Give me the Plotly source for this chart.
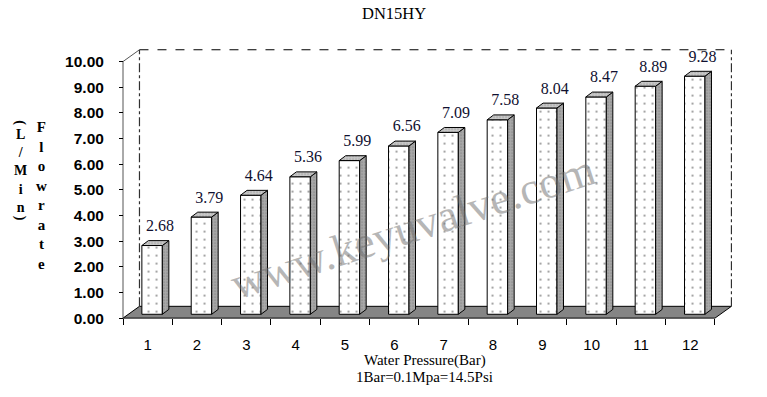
import plotly.graph_objects as go

# ---------------- data ----------------
pressure = [1, 2, 3, 4, 5, 6, 7, 8, 9, 10, 11, 12]
flow = [2.68, 3.79, 4.64, 5.36, 5.99, 6.56, 7.09, 7.58, 8.04, 8.47, 8.89, 9.28]
x_labels = [str(p) for p in pressure]
y_ticks = [0, 1, 2, 3, 4, 5, 6, 7, 8, 9, 10]

# ---------------- geometry (data units) ----------------
W, H = 767, 397
PX_X = 49.33   # px per category
PX_Y = 26.05   # px per unit
X0_PX, Y0_PX = 123, 323   # pixel of (0.5, 0)
XR = [0.45, 12.95]
YR = [-0.1, 10.7]

DX, DY = 0.334, 0.46      # depth of floor / walls
BASE = 0.15               # bar base (mid depth)
BW = 0.415                # bar front width
BOFF = 0.09               # bar centre shift
BDX, BDY = 0.132, 0.19    # bar depth

def xpx(x):
    return X0_PX + (x - 0.5) * PX_X

def ypx(y):
    return Y0_PX - y * PX_Y

dom_x = [xpx(XR[0]) / W, xpx(XR[1]) / W]
dom_y = [1 - ypx(YR[0]) / H, 1 - ypx(YR[1]) / H]

fig = go.Figure()

# bar fronts
fig.add_trace(go.Bar(
    x=pressure, y=flow, base=BASE, width=BW, offset=BOFF - BW / 2,
    marker=dict(color="white", line=dict(color="black", width=1),
                pattern=dict(shape=".", fgcolor="#202020", bgcolor="white",
                             size=8, solidity=0.06)),
    showlegend=False, hoverinfo="skip"))

# bar side faces and top faces
sx, sy, tx, ty = [], [], [], []
for c, v in zip(pressure, flow):
    xl = c + BOFF - BW / 2
    xr = c + BOFF + BW / 2
    top = BASE + v
    sx += [xr, xr, xr + BDX, xr + BDX, xr, None]
    sy += [BASE, top, top + BDY, BASE + BDY, BASE, None]
    tx += [xl, xr, xr + BDX, xl + BDX, xl, None]
    ty += [top, top, top + BDY, top + BDY, top, None]

fig.add_trace(go.Scatter(
    x=sx, y=sy, mode="lines", fill="toself", fillcolor="#a8a8a8",
    fillpattern=dict(shape=".", fgcolor="#4a4a4a", bgcolor="#a8a8a8", size=3, solidity=0.15),
    line=dict(color="black", width=1), showlegend=False, hoverinfo="skip"))
fig.add_trace(go.Scatter(
    x=tx, y=ty, mode="lines", fill="toself", fillcolor="#c8c8c8",
    fillpattern=dict(shape=".", fgcolor="#606060", bgcolor="#c8c8c8", size=3, solidity=0.15),
    line=dict(color="black", width=1), showlegend=False, hoverinfo="skip"))

# value labels
fig.add_trace(go.Scatter(
    x=[c + 0.25 for c in pressure], y=[BASE + v + 0.72 for v in flow],
    mode="text", text=[f"{v:.2f}" for v in flow], textposition="middle center",
    textfont=dict(family="Liberation Serif", size=16, color="#101030"),
    showlegend=False, hoverinfo="skip"))

# ---------------- floor / walls ----------------
x_lo, x_hi = 0.5, 12.5
y_top = 10
shapes = [
    dict(type="path", xref="x", yref="y", layer="below",
         path=f"M {x_lo},0 L {x_hi},0 L {x_hi+DX},{DY} L {x_lo+DX},{DY} Z",
         fillcolor="#858585", line=dict(color="black", width=1)),
    dict(type="line", xref="x", yref="y", layer="below",
         x0=x_lo + DX, y0=y_top + DY, x1=x_hi + DX, y1=y_top + DY,
         line=dict(color="black", width=1.2, dash="dash")),
    dict(type="line", xref="x", yref="y", layer="below",
         x0=x_lo + DX, y0=DY, x1=x_lo + DX, y1=y_top + DY,
         line=dict(color="#303030", width=1.2, dash="dashdot")),
    dict(type="line", xref="x", yref="y", layer="below",
         x0=x_hi + DX, y0=DY, x1=x_hi + DX, y1=y_top + DY,
         line=dict(color="#303030", width=1.2, dash="dashdot")),
    dict(type="line", xref="x", yref="y", layer="below",
         x0=x_lo, y0=0, x1=x_lo, y1=y_top, line=dict(color="#555555", width=1)),
    dict(type="line", xref="x", yref="y", layer="below",
         x0=x_lo, y0=y_top, x1=x_lo + DX, y1=y_top + DY, line=dict(color="#555555", width=1)),
]

annotations = [
    dict(text="DN15HY", x=394 / W, y=1 - 14 / H, xref="paper", yref="paper",
         showarrow=False, xanchor="center", yanchor="middle",
         font=dict(family="Liberation Serif", size=16.5, color="black")),
    dict(text="Water Pressure(Bar)", x=425 / W, y=1 - 366 / H, xref="paper", yref="paper",
         showarrow=False, xanchor="center", yanchor="middle",
         font=dict(family="Liberation Serif", size=15, color="black")),
    dict(text="1Bar=0.1Mpa=14.5Psi", x=425 / W, y=1 - 383 / H, xref="paper", yref="paper",
         showarrow=False, xanchor="center", yanchor="middle",
         font=dict(family="Liberation Serif", size=15, color="black")),
    dict(text="<br>".join("Flowrate"), x=41 / W, y=1 - 198 / H, xref="paper", yref="paper",
         showarrow=False, xanchor="center", yanchor="middle",
         font=dict(family="Liberation Serif", size=15, color="black", weight="bold")),
    dict(text="<br>".join("L/Min"), x=20 / W, y=1 - 174 / H, xref="paper", yref="paper",
         showarrow=False, xanchor="center", yanchor="middle",
         font=dict(family="Liberation Serif", size=14, color="black", weight="bold")),
    dict(text="(", textangle=90, x=20 / W, y=1 - 124 / H, xref="paper", yref="paper",
         showarrow=False, xanchor="center", yanchor="middle",
         font=dict(family="Liberation Serif", size=14, color="black", weight="bold")),
    dict(text=")", textangle=90, x=20 / W, y=1 - 221 / H, xref="paper", yref="paper",
         showarrow=False, xanchor="center", yanchor="middle",
         font=dict(family="Liberation Serif", size=14, color="black", weight="bold")),
    dict(text="www.keyuvalve.com", textangle=-18, x=412 / W, y=1 - 230 / H,
         xref="paper", yref="paper", showarrow=False, xanchor="center", yanchor="middle",
         font=dict(family="Liberation Serif", size=45, color="rgba(110,110,110,0.5)")),
]

fig.update_layout(
    width=W, height=H, autosize=False,
    margin=dict(l=0, r=0, t=0, b=0),
    paper_bgcolor="white", plot_bgcolor="rgba(0,0,0,0)",
    shapes=shapes, annotations=annotations, showlegend=False,
    xaxis=dict(domain=dom_x, range=XR, anchor="free", position=1 - Y0_PX / H,
               tickvals=pressure, ticktext=x_labels, ticks="", showline=False,
               showgrid=False, zeroline=False, ticklabelstandoff=16,
               tickfont=dict(family="Liberation Sans", size=15, color="black")),
    xaxis2=dict(domain=dom_x, range=XR, overlaying="x", anchor="free",
                position=1 - Y0_PX / H, side="bottom",
                tickvals=[p - 0.5 for p in pressure] + [pressure[-1] + 0.5],
                ticks="outside", ticklen=6, tickcolor="black", tickwidth=1,
                showticklabels=False, showline=False, showgrid=False, zeroline=False),
    yaxis=dict(domain=dom_y, range=YR, anchor="free", position=X0_PX / W,
               tickvals=y_ticks, tickformat=".2f", ticks="outside", ticklen=4,
               tickcolor="black", showline=False, showgrid=False, zeroline=False,
               ticklabelstandoff=12,
               tickfont=dict(family="Liberation Sans", size=15.5, color="black", weight="bold")),
)
fig.add_trace(go.Scatter(x=[None], y=[None], xaxis="x2", yaxis="y", showlegend=False,
                         hoverinfo="skip"))

fig.write_html("out.html", config={"displayModeBar": False},
               post_script="document.body.style.margin='0';")
